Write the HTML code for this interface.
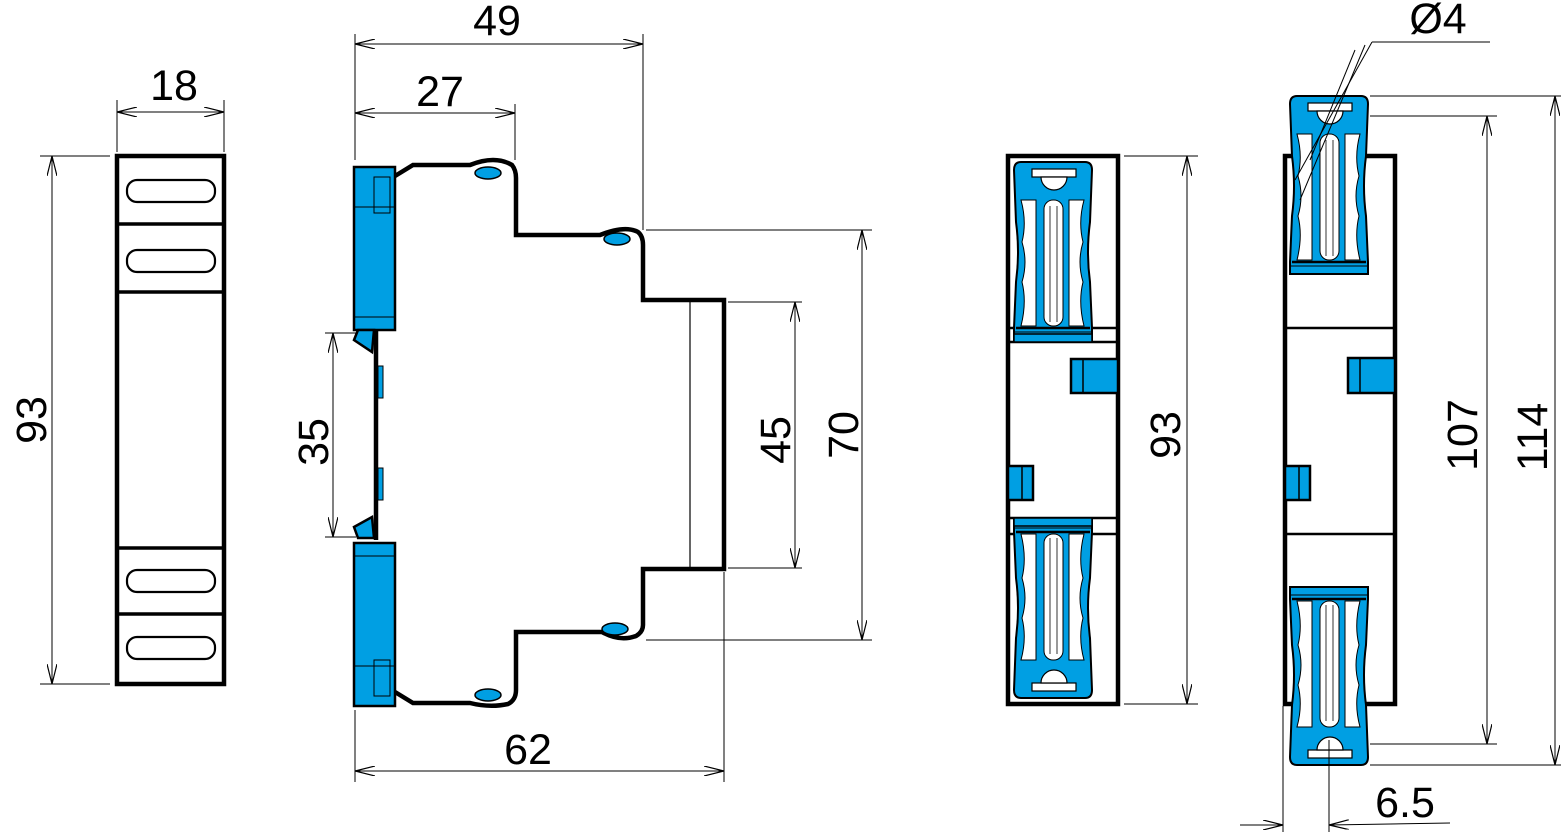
<!DOCTYPE html>
<html><head><meta charset="utf-8"><style>
html,body{margin:0;padding:0;background:#fff;}
svg{display:block;}
text{font-family:"Liberation Sans",sans-serif;font-size:43px;fill:#000;}
</style></head><body>
<svg width="1561" height="837" viewBox="0 0 1561 837" xmlns="http://www.w3.org/2000/svg">
<defs>
<marker id="a" viewBox="0 0 20 10" refX="20" refY="5" markerWidth="20" markerHeight="10" markerUnits="userSpaceOnUse" orient="auto-start-reverse">
<polyline points="0,0 20,5 0,10" fill="none" stroke="#000" stroke-width="1.2"/>
</marker>
<g id="mod">
<path d="M7,0 H71 Q78,0 78,8 L76,60 Q72,90 76,120 L78,166 V178 H0 V166 L2,120 Q6,90 2,60 L0,8 Q0,0 7,0 Z" fill="#009fe3" stroke="#000" stroke-width="2"/>
<rect x="18" y="7" width="44" height="8" fill="#fff" stroke="#000" stroke-width="1.2"/>
<path d="M27,15 A13,13 0 0 0 53,15 Z" fill="#fff" stroke="#000" stroke-width="1.2"/>
<path d="M7,38 H22 V164 H7 Q13,140 8,120 Q14,100 8,80 Q13,60 7,38Z" fill="#fff" stroke="#000" stroke-width="1"/>
<path d="M70,38 H55 V164 H70 Q64,140 69,120 Q63,100 69,80 Q64,60 70,38Z" fill="#fff" stroke="#000" stroke-width="1"/>
<rect x="30" y="38" width="19" height="126" rx="9" fill="#fff" stroke="#000" stroke-width="1"/>
<line x1="36" y1="44" x2="36" y2="160" stroke="#000" stroke-width="0.8"/>
<line x1="43" y1="44" x2="43" y2="160" stroke="#000" stroke-width="0.8"/>
<line x1="2" y1="166" x2="76" y2="166" stroke="#000" stroke-width="2.5"/>
<line x1="1" y1="170" x2="77" y2="170" stroke="#000" stroke-width="1"/>
</g>
<g id="clip">
<rect x="0" y="0" width="41" height="163" fill="#009fe3" stroke="#000" stroke-width="2.5"/>
<rect x="20" y="10" width="16" height="36" fill="#009fe3" stroke="#000" stroke-width="1"/>
<line x1="0" y1="40" x2="41" y2="40" stroke="#000" stroke-width="1"/>
<line x1="0" y1="150" x2="41" y2="150" stroke="#000" stroke-width="1"/>
</g>
</defs>

<g stroke="#000" fill="none">
<!-- View 1 -->
<rect x="117" y="156" width="107" height="528" stroke-width="4.5"/>
<g stroke-width="3.5">
<line x1="117" y1="224" x2="224" y2="224"/><line x1="117" y1="292" x2="224" y2="292"/>
<line x1="117" y1="548" x2="224" y2="548"/><line x1="117" y1="614" x2="224" y2="614"/>
</g>
<g stroke-width="2.2">
<rect x="127" y="180" width="88" height="22" rx="10"/><rect x="127" y="250" width="88" height="22" rx="10"/>
<rect x="127" y="570" width="88" height="22" rx="10"/><rect x="127" y="637" width="88" height="22" rx="10"/>
</g>
<g stroke-width="1">
<line x1="117" y1="100" x2="117" y2="152"/><line x1="224" y1="100" x2="224" y2="152"/>
<line x1="117" y1="112" x2="224" y2="112" marker-start="url(#a)" marker-end="url(#a)"/>
<line x1="40" y1="156" x2="110" y2="156"/><line x1="40" y1="684" x2="110" y2="684"/>
<line x1="52" y1="156" x2="52" y2="684" marker-start="url(#a)" marker-end="url(#a)"/>
</g>

<!-- View 2 -->
<path d="M395,176 L413,165 H470 Q495,155 512,165 Q516,170 516,178 V235 H600 Q625,225 638,232 Q643,236 643,245 V300 H724 V569 H643 V625 Q643,632 636,636 Q620,642 602,632 H516 V690 Q516,700 508,704 Q490,708 470,703 H413 L395,692" stroke-width="4.5"/>
<line x1="376" y1="330" x2="376" y2="540" stroke-width="4.5"/>
<line x1="690" y1="300" x2="690" y2="569" stroke-width="1.2"/>
<use href="#clip" x="354" y="167"/>
<use href="#clip" transform="translate(354,706) scale(1,-1)"/>
<path d="M354,340 L358,330 L374,330 L372,352 Z" fill="#009fe3" stroke-width="2.5"/>
<path d="M354,527 L358,538 L374,538 L372,517 Z" fill="#009fe3" stroke-width="2.5"/>
<rect x="378" y="366" width="5" height="32" fill="#009fe3" stroke-width="1"/>
<rect x="378" y="468" width="5" height="32" fill="#009fe3" stroke-width="1"/>
<g fill="#009fe3" stroke-width="1.5">
<ellipse cx="488" cy="173" rx="13" ry="6"/><ellipse cx="617" cy="239" rx="13" ry="6"/>
<ellipse cx="615" cy="629" rx="13" ry="6"/><ellipse cx="488" cy="695" rx="13" ry="6"/>
</g>
<g stroke-width="1">
<line x1="355" y1="34" x2="355" y2="160"/><line x1="643" y1="34" x2="643" y2="230"/>
<line x1="355" y1="44" x2="643" y2="44" marker-start="url(#a)" marker-end="url(#a)"/>
<line x1="515" y1="104" x2="515" y2="160"/>
<line x1="355" y1="113" x2="515" y2="113" marker-start="url(#a)" marker-end="url(#a)"/>
<line x1="355" y1="710" x2="355" y2="782"/><line x1="724" y1="572" x2="724" y2="782"/>
<line x1="355" y1="771" x2="724" y2="771" marker-start="url(#a)" marker-end="url(#a)"/>
<line x1="325" y1="333" x2="356" y2="333"/><line x1="325" y1="537" x2="356" y2="537"/>
<line x1="333" y1="333" x2="333" y2="537" marker-start="url(#a)" marker-end="url(#a)"/>
<line x1="728" y1="302" x2="802" y2="302"/><line x1="728" y1="568" x2="802" y2="568"/>
<line x1="795" y1="302" x2="795" y2="568" marker-start="url(#a)" marker-end="url(#a)"/>
<line x1="646" y1="230" x2="872" y2="230"/><line x1="646" y1="640" x2="872" y2="640"/>
<line x1="862" y1="230" x2="862" y2="640" marker-start="url(#a)" marker-end="url(#a)"/>
</g>

<!-- View 3 -->
<rect x="1008" y="156" width="110" height="548" stroke-width="4.5"/>
<g stroke-width="2.5">
<line x1="1008" y1="328" x2="1118" y2="328"/><line x1="1008" y1="342" x2="1118" y2="342"/>
<line x1="1008" y1="518" x2="1118" y2="518"/><line x1="1008" y1="534" x2="1118" y2="534"/>
</g>
<use href="#mod" x="1014" y="162"/>
<use href="#mod" transform="translate(1014,698) scale(1,-1)"/>
<rect x="1014" y="334" width="78" height="8" fill="#009fe3" stroke-width="1.5"/>
<rect x="1014" y="518" width="78" height="8" fill="#009fe3" stroke-width="1.5"/>
<rect x="1071" y="359" width="47" height="34" fill="#009fe3" stroke-width="2.5"/>
<line x1="1083" y1="359" x2="1083" y2="393" stroke-width="1.5"/>
<rect x="1008" y="466" width="25" height="34" fill="#009fe3" stroke-width="2.5"/>
<line x1="1022" y1="466" x2="1022" y2="500" stroke-width="1.5"/>
<g stroke-width="1">
<line x1="1124" y1="156" x2="1198" y2="156"/><line x1="1124" y1="704" x2="1198" y2="704"/>
<line x1="1187" y1="156" x2="1187" y2="704" marker-start="url(#a)" marker-end="url(#a)"/>
</g>

<!-- View 4 -->
<rect x="1285" y="156" width="110" height="548" stroke-width="4.5"/>
<g stroke-width="2.5">
<line x1="1285" y1="328" x2="1395" y2="328"/><line x1="1285" y1="534" x2="1395" y2="534"/>
</g>
<use href="#mod" x="1290" y="96"/>
<use href="#mod" transform="translate(1290,765) scale(1,-1)"/>
<rect x="1348" y="358" width="47" height="35" fill="#009fe3" stroke-width="2.5"/>
<line x1="1360" y1="358" x2="1360" y2="393" stroke-width="1.5"/>
<rect x="1285" y="466" width="25" height="34" fill="#009fe3" stroke-width="2.5"/>
<line x1="1299" y1="466" x2="1299" y2="500" stroke-width="1.5"/>
<g stroke-width="1">
<line x1="1370" y1="116" x2="1497" y2="116"/><line x1="1370" y1="744" x2="1497" y2="744"/>
<line x1="1487" y1="116" x2="1487" y2="744" marker-start="url(#a)" marker-end="url(#a)"/>
<line x1="1370" y1="96" x2="1561" y2="96"/><line x1="1370" y1="765" x2="1561" y2="765"/>
<line x1="1555" y1="96" x2="1555" y2="765" marker-start="url(#a)" marker-end="url(#a)"/>
<line x1="1283" y1="706" x2="1283" y2="832"/><line x1="1329" y1="740" x2="1329" y2="832"/>
<line x1="1240" y1="825" x2="1283" y2="825" marker-end="url(#a)"/>
<line x1="1450" y1="823" x2="1329" y2="825" marker-end="url(#a)"/>
<line x1="1372" y1="42" x2="1490" y2="42"/>
<line x1="1372" y1="42" x2="1295" y2="180"/>
<line x1="1355" y1="50" x2="1310" y2="160"/>
<line x1="1365" y1="45" x2="1300" y2="200"/>
</g>
</g>

<text x="174" y="100" text-anchor="middle">18</text>
<text transform="translate(46,420) rotate(-90)" text-anchor="middle">93</text>
<text x="497" y="35" text-anchor="middle">49</text>
<text x="440" y="106" text-anchor="middle">27</text>
<text x="528" y="764" text-anchor="middle">62</text>
<text transform="translate(328,442) rotate(-90)" text-anchor="middle">35</text>
<text transform="translate(790,440) rotate(-90)" text-anchor="middle">45</text>
<text transform="translate(858,435) rotate(-90)" text-anchor="middle">70</text>
<text transform="translate(1180,435) rotate(-90)" text-anchor="middle">93</text>
<text transform="translate(1477,435) rotate(-90)" text-anchor="middle">107</text>
<text transform="translate(1547,437) rotate(-90)" text-anchor="middle">114</text>
<text x="1405" y="817" text-anchor="middle">6.5</text>
<text x="1438" y="33" text-anchor="middle">Ø4</text>
</svg>
</body></html>
